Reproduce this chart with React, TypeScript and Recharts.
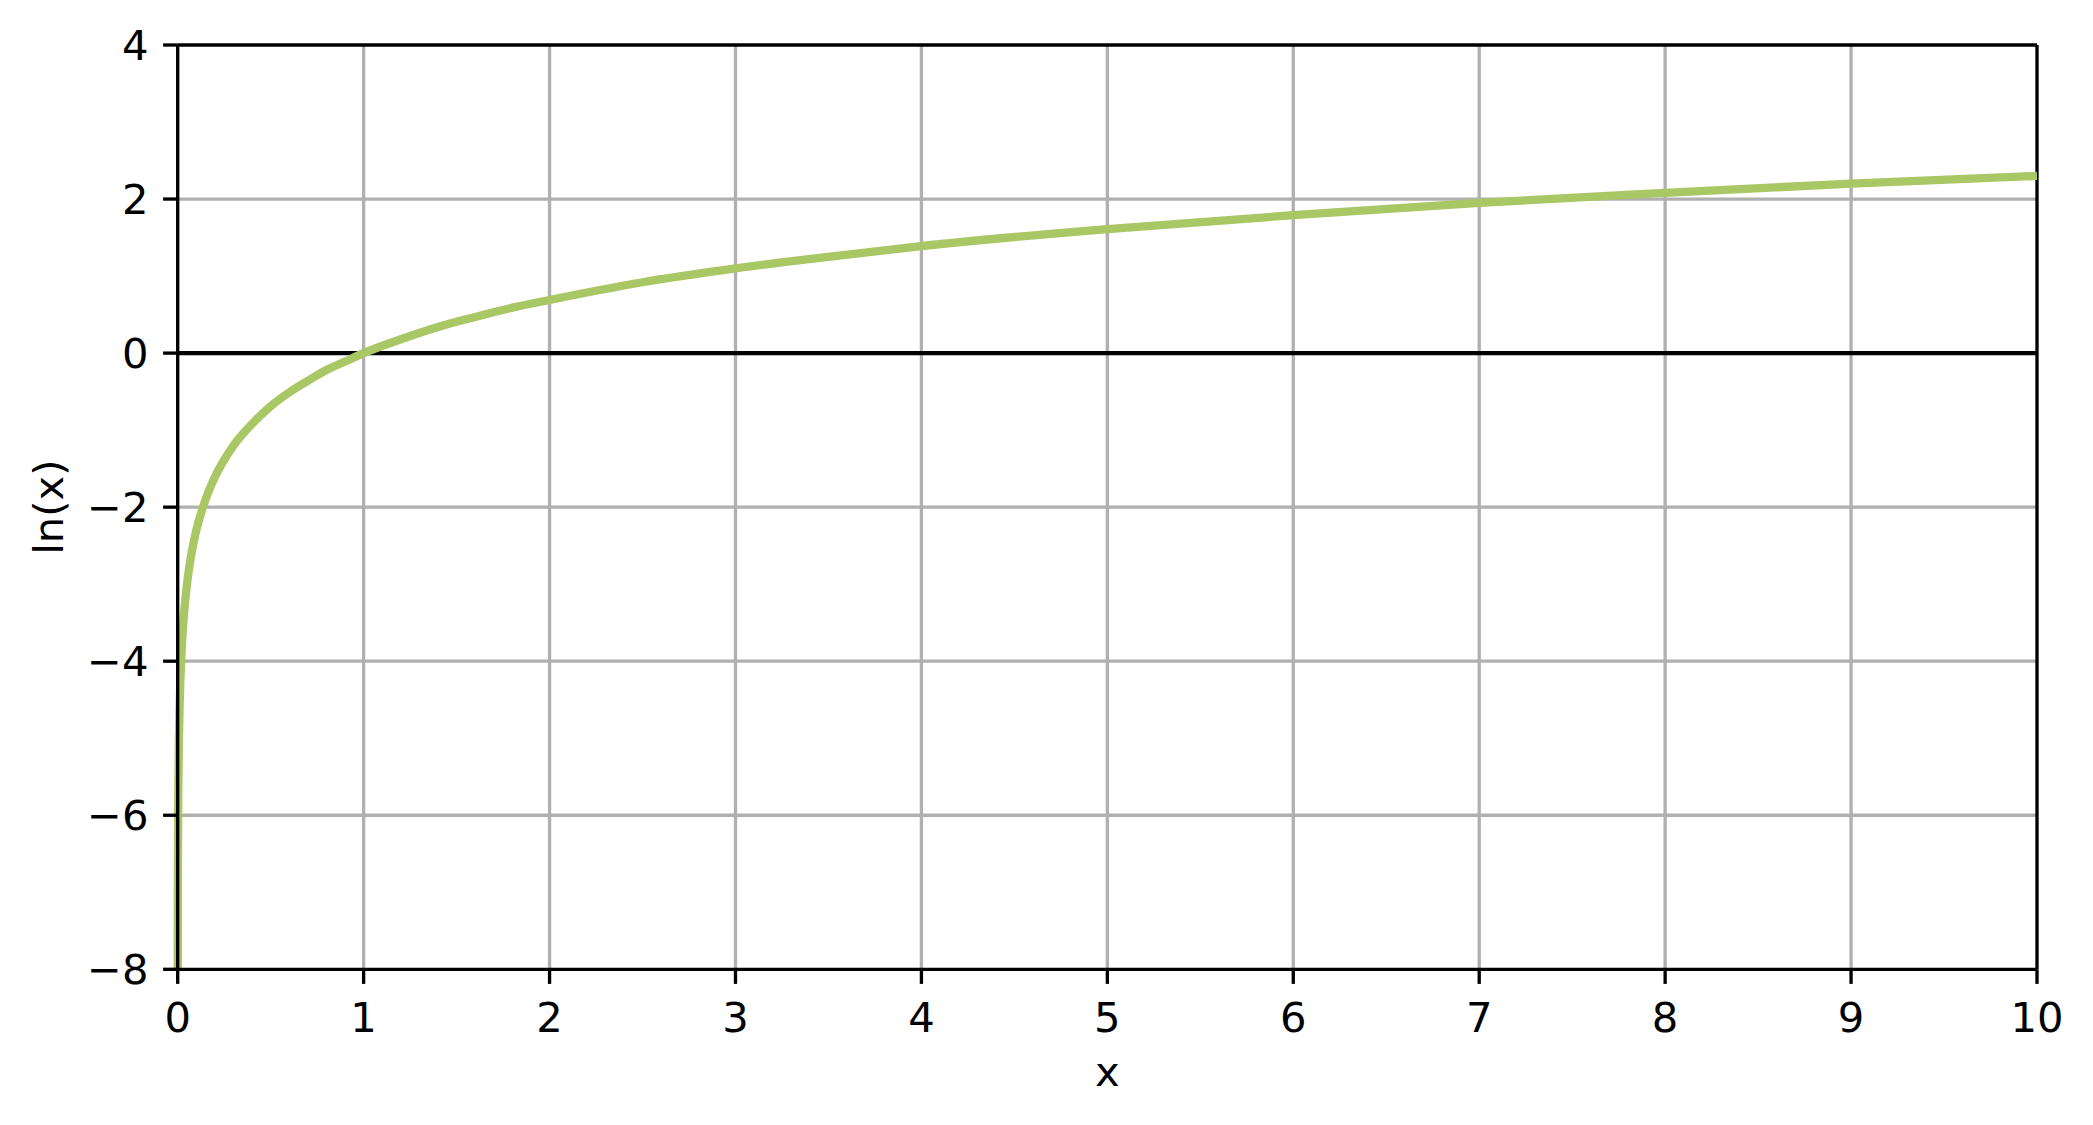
import React from "react";
import { CartesianGrid, Label, Line, LineChart, ReferenceLine, XAxis, YAxis } from "recharts";

// sample points
const xValues = [
  0.000335, 0.0005, 0.001, 0.002, 0.004, 0.007, 0.01, 0.02, 0.03, 0.05, 0.07, 0.1, 0.15, 0.2, 0.3, 0.4,
  0.5, 0.6, 0.7, 0.8, 0.9, 1, 1.2, 1.4, 1.6, 1.8, 2, 2.5, 3, 3.5, 4, 5, 6, 7, 8, 9, 10,
];
const lnValues = [
  -8.0, -7.6, -6.91, -6.21, -5.52, -4.96, -4.61, -3.91, -3.51, -3.0, -2.66, -2.3, -1.9, -1.61, -1.2, -0.92,
  -0.69, -0.51, -0.36, -0.22, -0.11, 0, 0.18, 0.34, 0.47, 0.59, 0.69, 0.92, 1.1, 1.25, 1.39, 1.61, 1.79, 1.95,
  2.08, 2.2, 2.3,
];
const xTicks = [0, 1, 2, 3, 4, 5, 6, 7, 8, 9, 10];
const yTicks = [-8, -6, -4, -2, 0, 2, 4];
// inner grid lines only, the frame covers the outer ones
const gridX = [1, 2, 3, 4, 5, 6, 7, 8, 9];
const gridY = [-6, -4, -2, 0, 2];

const data = xValues.map((x, i) => ({ x, y: lnValues[i] }));

const FONT = "DejaVu Sans";
const FS = 41.7;
const tickStyle = { fontFamily: FONT, fontSize: FS, fill: "#000" };
const fmt = (v: number) => String(v).replace("-", "\u2212");

export default function App() {
  return (
    <div style={{ position: "absolute", left: 0, top: 0, background: "#fff" }}>
      <LineChart width={2093} height={1125} data={data} margin={{ top: 45, right: 56, bottom: 0, left: 0 }}>
        <CartesianGrid stroke="#b0b0b0" strokeWidth={3.33} verticalValues={gridX} horizontalValues={gridY} />
        <XAxis
          dataKey="x"
          type="number"
          domain={[0, 10]}
          ticks={xTicks}
          height={155.7}
          tickSize={14.6}
          tickMargin={18}
          tick={tickStyle}
          tickFormatter={fmt}
          stroke="#000"
          strokeWidth={3.33}
          interval={0}
        >
          <Label
            content={({ viewBox }: any) => (
              <text x={viewBox.x + viewBox.width / 2} y={viewBox.y + 116.7} textAnchor="middle" fontFamily={FONT} fontSize={FS} fill="#000">
                x
              </text>
            )}
          />
        </XAxis>
        <YAxis
          type="number"
          domain={[-8, 4]}
          ticks={yTicks}
          width={177.7}
          tickSize={14.6}
          tickMargin={14.6}
          tick={tickStyle}
          tickFormatter={fmt}
          stroke="#000"
          strokeWidth={3.33}
          interval={0}
        >
          <Label
            content={({ viewBox }: any) => (
              <text x={63} y={viewBox.y + viewBox.height / 2} transform={`rotate(-90 63 ${viewBox.y + viewBox.height / 2})`} textAnchor="middle" fontFamily={FONT} fontSize={FS} fill="#000">
                ln(x)
              </text>
            )}
          />
        </YAxis>
        <ReferenceLine y={0} stroke="#000" strokeWidth={4.17} />
        {/* top and right frame */}
        <ReferenceLine y={4} stroke="#000" strokeWidth={3.33} />
        <ReferenceLine x={10} stroke="#000" strokeWidth={3.33} />
        <Line dataKey="y" type="monotone" stroke="#a9c764" strokeWidth={8.3} dot={false} isAnimationActive={false} />
      </LineChart>
    </div>
  );
}
